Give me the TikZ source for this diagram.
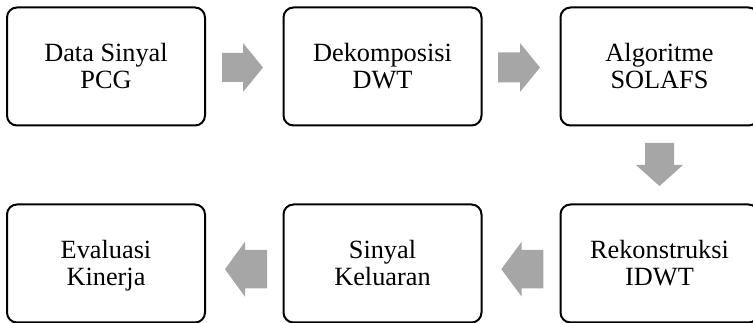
\documentclass[tikz,border=0pt]{standalone}
\usepackage{fontspec}
\setmainfont{Liberation Serif}
\definecolor{arrowgray}{RGB}{166,166,166}
\begin{document}
\begin{tikzpicture}[x=1pt,y=-1pt,
  stepbox/.style={draw=black, line width=2pt, rounded corners=10pt, minimum width=198pt, minimum height=118pt, inner sep=0pt},
  lbl/.style={align=center, inner sep=0pt, font=\fontsize{26.3}{26.6}\selectfont, yshift=-3.2pt},
  blockarrow/.style={fill=arrowgray, draw=none}]
\clip (0,0) rectangle (753,323);
\useasboundingbox (0,0) rectangle (753,323);
% row 1
\node[stepbox] (b1) at (106,66.5) {};
\node[stepbox] (b2) at (382.5,66.5) {};
\node[stepbox] (b3) at (659.5,66.5) {};
% row 2
\node[stepbox] (b6) at (106,263.5) {};
\node[stepbox] (b5) at (382.5,263.5) {};
\node[stepbox] (b4) at (659.5,263.5) {};
% labels
\node[lbl] (t1) at (b1.center) {\strut Data Sinyal\\PCG\strut};
\node[lbl] (t2) at (b2.center) {\strut Dekomposisi\\DWT\strut};
\node[lbl] (t3) at (b3.center) {\strut Algoritme\\SOLAFS\strut};
\node[lbl] (t4) at (b4.center) {\strut Rekonstruksi\\IDWT\strut};
\node[lbl] (t5) at (b5.center) {\strut Sinyal\\Keluaran\strut};
\node[lbl] (t6) at (b6.center) {\strut Evaluasi\\Kinerja\strut};
% block arrows
\fill[blockarrow] (222,53) -- (243,53) -- (243,43) -- (263,67.5) -- (243,92) -- (243,82) -- (222,82) -- cycle;
\fill[blockarrow] (498,52.5) -- (520,52.5) -- (520,43) -- (540,67.5) -- (520,92) -- (520,82.5) -- (498,82.5) -- cycle;
\fill[blockarrow] (645,143) -- (674,143) -- (674,165) -- (683,165) -- (659.5,186) -- (636,165) -- (645,165) -- cycle;
\fill[blockarrow] (543.3,250) -- (521.7,250) -- (521.7,241.7) -- (501.3,269.2) -- (521.7,296.7) -- (521.7,288.3) -- (543.3,288.3) -- cycle;
\fill[blockarrow] (267,250) -- (245,250) -- (245,241.7) -- (225,269.2) -- (245,296.7) -- (245,288.3) -- (267,288.3) -- cycle;
\end{tikzpicture}
\end{document}
